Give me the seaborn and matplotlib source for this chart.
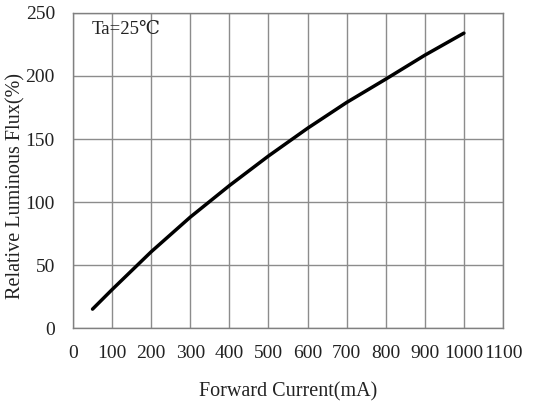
import matplotlib
matplotlib.use("Agg")
import matplotlib.pyplot as plt
import seaborn as sns
import pandas as pd

current_ma = [50, 100, 200, 300, 400, 500, 600, 700, 800, 900, 1000]
relative_flux = [15, 30.5, 60.5, 88, 113, 136.5, 158.5, 179, 197.5, 216.5, 234]
x_ticks = list(range(0, 1101, 100))
y_ticks = list(range(0, 251, 50))

sns.set_theme(style="white")
plt.rcParams['font.family'] = ['Liberation Serif', 'DejaVu Serif']

df = pd.DataFrame({"I": current_ma, "F": relative_flux})

fig = plt.figure(figsize=(5.46, 4.01), dpi=100)
ax = fig.add_axes([0.1337, 0.182, 0.7875, 0.7856])
sns.lineplot(data=df, x="I", y="F", ax=ax, color="black", linewidth=2.5)

ax.set_xlim(0, 1100)
ax.set_ylim(0, 250)
ax.set_xticks(x_ticks)
ax.set_yticks(y_ticks)
ax.grid(True, color="#8c8c8c", linewidth=1.0)
for s in ax.spines.values():
    s.set_color("#808080")
    s.set_linewidth(1.0)
ax.tick_params(axis="both", length=0, labelsize=14, colors="#222222")
ax.tick_params(axis="x", pad=12)
ax.tick_params(axis="y", pad=13)
ax.set_xlabel("Forward Current(mA)", fontsize=14.5, labelpad=15, color="#222222")
ax.set_ylabel("Relative Luminous Flux(%)", fontsize=14.5, color="#222222")
ax.yaxis.set_label_coords(-0.11, 0.45)
ax.text(0.043, 0.949, "Ta=25℃", transform=ax.transAxes, fontsize=13.5,
        va="center", ha="left", color="#222222")

fig.savefig("out.png", dpi=100)
